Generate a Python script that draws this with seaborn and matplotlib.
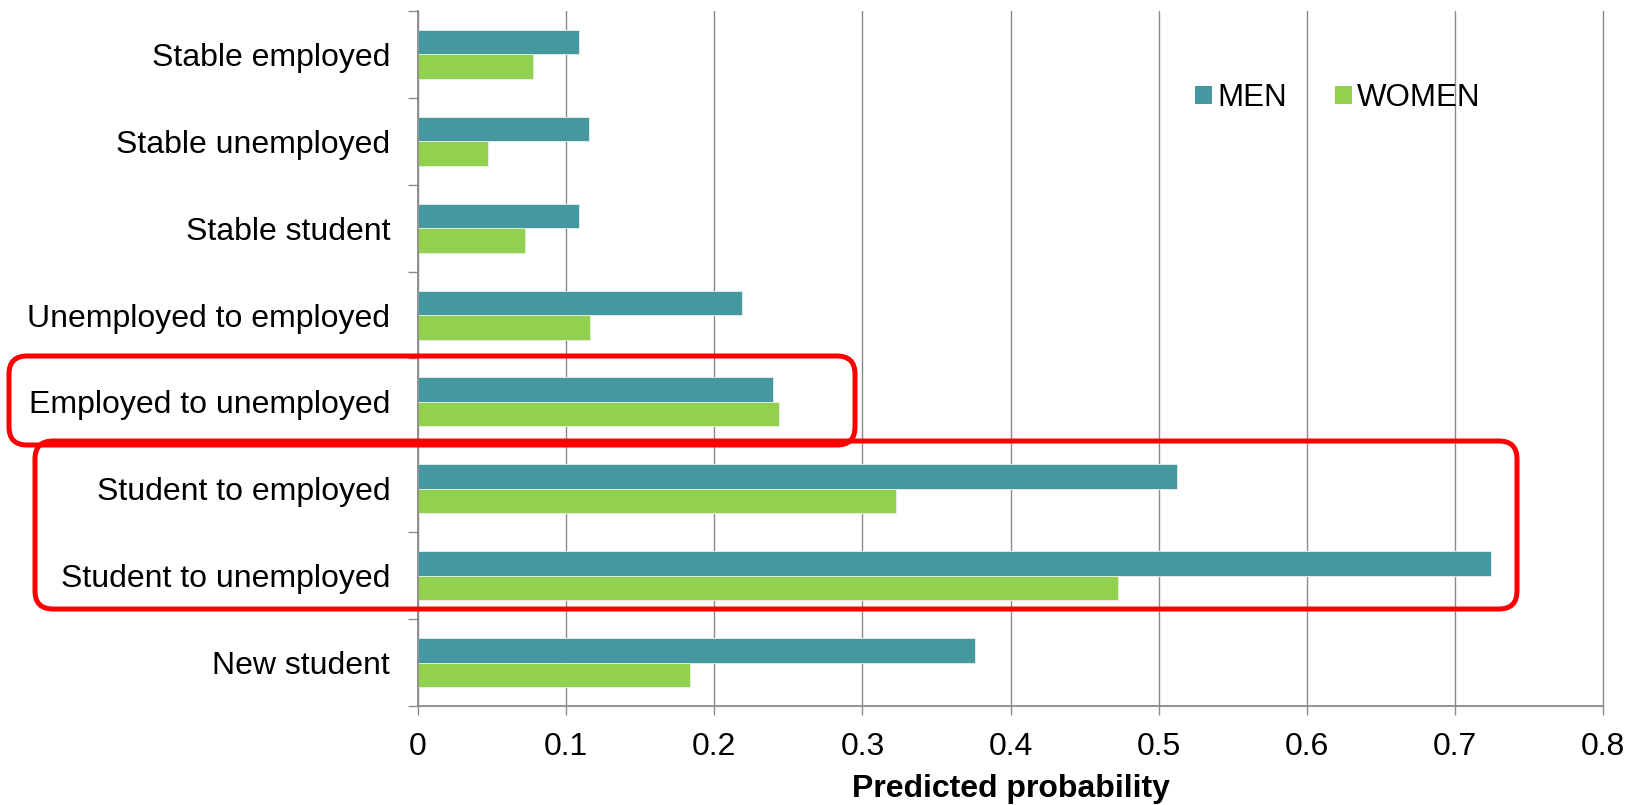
import matplotlib
matplotlib.use("Agg")
import matplotlib.pyplot as plt
import matplotlib.transforms as mtransforms
from matplotlib.patches import FancyBboxPatch, Patch
import pandas as pd
import seaborn as sns

# data
categories = ['Stable employed', 'Stable unemployed', 'Stable student',
              'Unemployed to employed', 'Employed to unemployed',
              'Student to employed', 'Student to unemployed', 'New student']
men = [0.109, 0.1155, 0.1085, 0.219, 0.2395, 0.5125, 0.7245, 0.376]
women = [0.0775, 0.047, 0.072, 0.116, 0.2435, 0.3225, 0.4725, 0.1838]
groups = ['MEN', 'WOMEN']
colors = ['#4698A0', '#92D050']
xticks = [0, 0.1, 0.2, 0.3, 0.4, 0.5, 0.6, 0.7, 0.8]

df = pd.DataFrame({
    'Category': categories * 2,
    'Probability': men + women,
    'Sex': ['MEN'] * len(categories) + ['WOMEN'] * len(categories),
})

sns.set_style('white')
plt.rcParams['font.family'] = ['Liberation Sans', 'DejaVu Sans']
plt.rcParams['text.color'] = 'black'
plt.rcParams['xtick.labelcolor'] = 'black'
plt.rcParams['ytick.labelcolor'] = 'black'
plt.rcParams['axes.labelcolor'] = 'black'

W, H = 1635, 805
fig = plt.figure(figsize=(W / 100, H / 100), dpi=100)
ax = fig.add_axes([418 / W, 1 - 706 / H, (1603 - 418) / W, (706 - 11) / H])

sns.barplot(data=df, y='Category', x='Probability', hue='Sex', order=categories,
            hue_order=groups, palette=colors, width=0.565, orient='h',
            edgecolor='#e8f0e8', linewidth=0.6, saturation=1, ax=ax)
ax.get_legend().remove()

ax.set_xlim(0, 0.8)
ax.set_ylim(len(categories) - 0.5, -0.5)
ax.set_xticks(xticks)
ax.set_xticklabels([f'{t:g}' for t in xticks], fontsize=23)
ax.xaxis.grid(True, color='#8a8a8a', linewidth=1.0)
for gl in ax.get_xgridlines():
    gl.set_clip_on(False)
ax.set_axisbelow(True)

# Excel style: y ticks between categories, labels centred
ax.set_yticks([i - 0.5 for i in range(len(categories) + 1)])
ax.set_yticklabels([])
ax.set_yticks(range(len(categories)), minor=True)
ax.set_yticklabels(categories, minor=True, fontsize=23)
ax.tick_params(axis='y', which='minor', length=0, pad=20)
ax.tick_params(axis='y', which='major', length=7, width=1.0, color='#8a8a8a', direction='out', left=True)
ax.tick_params(axis='x', length=6.5, width=1.0, color='#8a8a8a', direction='out', pad=12.5, bottom=True)

for s in ['top', 'right']:
    ax.spines[s].set_visible(False)
for s in ['left', 'bottom']:
    ax.spines[s].set_color('#8a8a8a')
    ax.spines[s].set_linewidth(1.3)

ax.set_ylabel('')
ax.set_xlabel('Predicted probability', fontsize=23, fontweight='bold', labelpad=8)

handles = [Patch(facecolor=c, edgecolor='none') for c in colors]
fig.legend(handles, groups, loc='center left', bbox_to_anchor=(1195 / W, 1 - 98 / H),
           ncol=2, frameon=False, fontsize=22.5, handlelength=0.55, handleheight=0.55,
           handletextpad=0.15, columnspacing=1.55, borderpad=0, borderaxespad=0)

# red highlight boxes, in image pixel coordinates (origin top left)
px = mtransforms.Affine2D().scale(1 / W, -1 / H).translate(0, 1) + fig.transFigure
boxes = [(9, 356, 855, 445), (35, 441, 1517, 609)]
for x0, y0, x1, y1 in boxes:
    fig.patches.append(FancyBboxPatch((x0, y0), x1 - x0, y1 - y0,
                                      boxstyle='round,pad=0,rounding_size=18',
                                      fill=False, edgecolor='#ff0000', linewidth=3.6,
                                      transform=px, figure=fig))

fig.savefig('out.png', dpi=100)
